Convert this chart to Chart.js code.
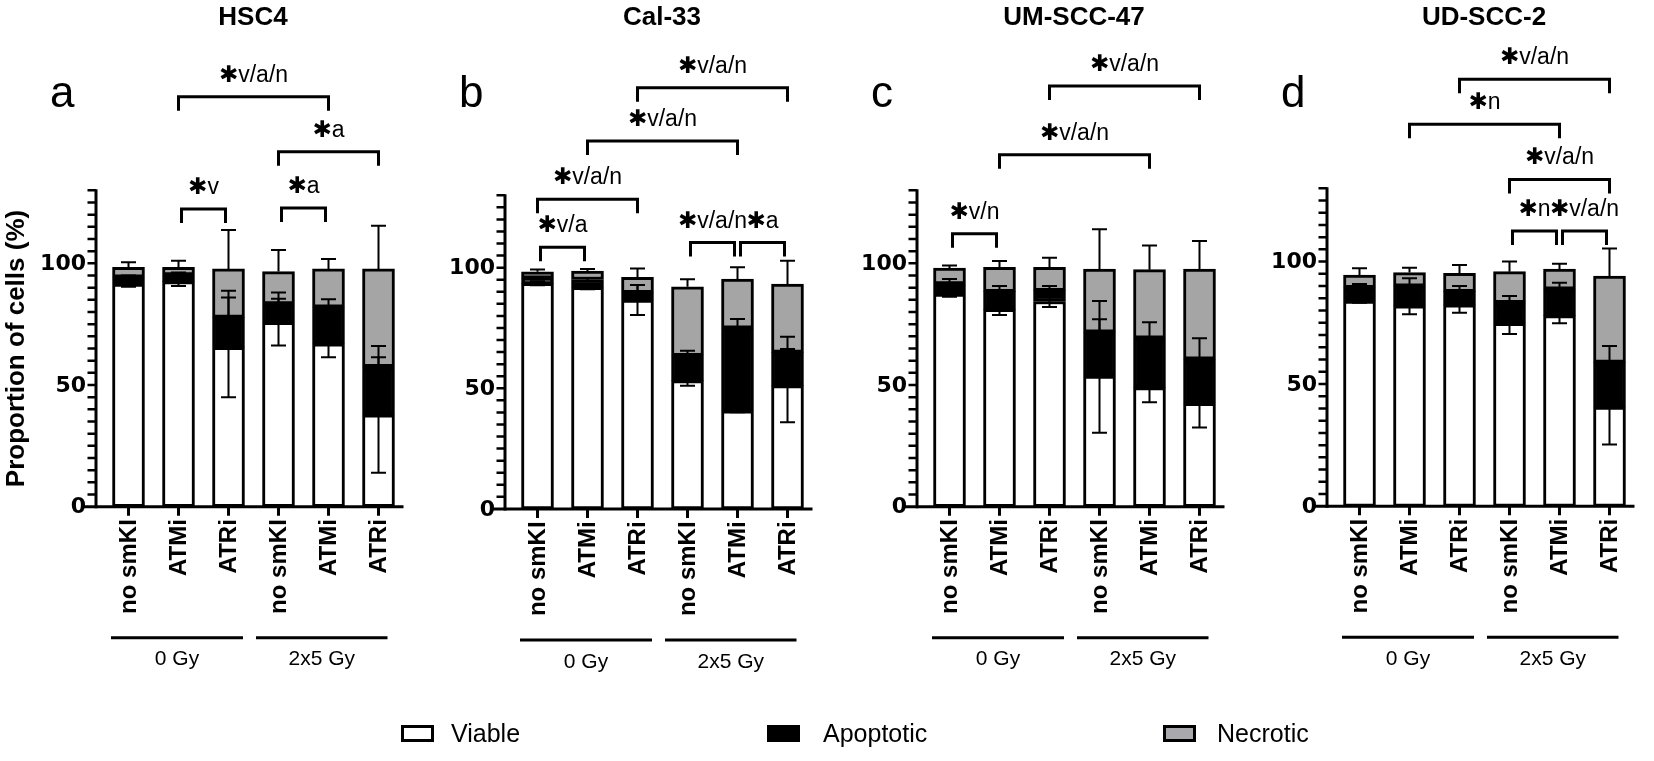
<!DOCTYPE html>
<html><head><meta charset="utf-8">
<script src="https://cdn.jsdelivr.net/npm/chart.js@4.4.1/dist/chart.umd.min.js"></script>
<style>
html,body{margin:0;padding:0;background:#fff;}
#wrap{position:relative;width:1654px;height:761px;overflow:hidden;background:#fff;}
.pc{position:absolute;top:0;width:405px;height:761px;}
.lgt{position:absolute;font:25px 'Liberation Sans',Arial,sans-serif;color:#000;line-height:25px;top:721px;}
.box{position:absolute;width:27px;height:11px;border:3px solid #000;top:725px;}
</style></head><body>
<div id="wrap">
  <div class="pc" style="left:0px"><canvas id="c0" width="405" height="761"></canvas></div>
  <div class="pc" style="left:409px"><canvas id="c1" width="405" height="761"></canvas></div>
  <div class="pc" style="left:821px"><canvas id="c2" width="405" height="761"></canvas></div>
  <div class="pc" style="left:1231px"><canvas id="c3" width="405" height="761"></canvas></div>
  <div class="box" style="left:401px;background:#fff"></div><div class="lgt" style="left:451px">Viable</div>
  <div class="box" style="left:767px;background:#000"></div><div class="lgt" style="left:823px">Apoptotic</div>
  <div class="box" style="left:1163px;background:#a9a9ad"></div><div class="lgt" style="left:1217px">Necrotic</div>
</div>
<script>
// ---------- data ----------
const categories = ['no smKI', 'ATMi', 'ATRi', 'no smKI', 'ATMi', 'ATRi'];
const groupLabels = ['0 Gy', '2x5 Gy'];
const panelTitles = ['HSC4', 'Cal-33', 'UM-SCC-47', 'UD-SCC-2'];
const panelLetters = ['a', 'b', 'c', 'd'];
const seriesNames = ['Viable', 'Apoptotic', 'Necrotic'];
const yTickLabels = [0, 50, 100];
const yMax = 130;

// HSC4
const hsc4Viable    = [91.5, 92.5, 65.5, 75.8, 66.9, 37.7];
const hsc4Apoptotic = [2.8, 2.7, 12.3, 7.5, 15.1, 19.8];
const hsc4Necrotic  = [4.1, 3.2, 19.9, 13.3, 15.7, 40.2];
const hsc4ViableSD    = [1.1, 1.8, 20.5, 9.6, 5.5, 23.7];
const hsc4ApoptoticSD = [0.7, 1.0, 10.9, 4.7, 3.2, 8.5];
const hsc4NecroticSD  = [2.0, 2.7, 16.0, 8.9, 4.1, 17.7];
const hsc4Sig = [[1, 4, 168.4, '✱v/a/n'], [3, 5, 145.8, '✱a'], [1, 2, 122.3, '✱v'], [3, 4, 122.7, '✱a']];

// Cal-33
const cal33Viable    = [93.5, 91.9, 86.6, 53.2, 40.7, 51.1];
const cal33Apoptotic = [2.1, 3.2, 3.0, 10.3, 34.2, 13.8];
const cal33Necrotic  = [2.7, 3.5, 6.4, 28.6, 20.4, 28.3];
const cal33ViableSD    = [0.8, 0.8, 6.2, 2.1, 0.6, 15.2];
const cal33ApoptoticSD = [0.5, 0.6, 3.2, 2.1, 3.8, 6.5];
const cal33NecroticSD  = [0.9, 0.9, 3.7, 3.1, 4.9, 9.7];
const cal33Sig = [[2, 5, 174.6, '✱v/a/n'], [1, 4, 152.5, '✱v/a/n'], [0, 2, 128.4, '✱v/a/n'],
                  [0, 1, 108.5, '✱v/a'], [3, 4, 110.4, '✱v/a/n'], [4, 5, 110.4, '✱a']];

// UM-SCC-47
const um47Viable    = [87.4, 81.1, 84.3, 53.7, 48.9, 42.5];
const um47Apoptotic = [4.1, 7.3, 4.5, 18.0, 20.3, 18.1];
const um47Necrotic  = [6.5, 9.9, 9.6, 25.9, 28.2, 37.0];
const um47ViableSD    = [1.1, 2.3, 2.3, 23.3, 6.0, 10.0];
const um47ApoptoticSD = [2.1, 2.3, 1.9, 12.8, 6.6, 8.6];
const um47NecroticSD  = [1.1, 2.7, 3.9, 16.4, 9.9, 11.6];
const um47Sig = [[2, 5, 172.9, '✱v/a/n'], [1, 4, 144.6, '✱v/a/n'], [0, 1, 112.1, '✱v/n']];

// UD-SCC-2
const ud2Viable    = [83.9, 81.9, 82.3, 74.8, 77.9, 40.5];
const ud2Apoptotic = [5.4, 8.1, 5.4, 8.4, 10.8, 18.3];
const ud2Necrotic  = [5.2, 5.5, 7.5, 12.7, 8.2, 35.3];
const ud2ViableSD    = [0.7, 3.4, 3.2, 4.4, 3.1, 15.2];
const ud2ApoptoticSD = [1.5, 3.2, 2.3, 2.7, 2.7, 6.7];
const ud2NecroticSD  = [2.8, 2.0, 3.4, 4.1, 2.2, 11.3];
const ud2Sig = [[2, 5, 174.5, '✱v/a/n'], [1, 4, 156.1, '✱n'], [3, 5, 133.6, '✱v/a/n'],
                [3, 4, 112.5, '✱n'], [4, 5, 112.5, '✱v/a/n']];

// ---------- layout / style ----------
const GRAY = '#a5a5a5';
const plotTop = [190.3, 195.3, 190.3, 188.2];
const plotBottom = [506.7, 508.9, 506.7, 506.3];
const FONT = "'Liberation Sans', Arial, sans-serif";

const errorBars = {
  id: 'errorBars',
  afterDatasetsDraw(chart, args, opts) {
    const ctx = chart.ctx, ys = chart.scales.y;
    ctx.save();
    ctx.strokeStyle = '#000';
    ctx.lineWidth = 2;
    chart.data.datasets.forEach((ds, di) => {
      const meta = chart.getDatasetMeta(di);
      meta.data.forEach((el, i) => {
        let cum = 0;
        for (let k = 0; k <= di; k++) cum += chart.data.datasets[k].data[i];
        const sd = ds.sd[i];
        const yHi = ys.getPixelForValue(cum + sd);
        const yLo = ys.getPixelForValue(ds.upOnly ? cum : cum - sd);
        const x = el.x;
        ctx.beginPath();
        ctx.moveTo(x, yLo); ctx.lineTo(x, yHi);
        ctx.moveTo(x - 7.5, yHi); ctx.lineTo(x + 7.5, yHi);
        if (!ds.upOnly) { ctx.moveTo(x - 7.5, yLo); ctx.lineTo(x + 7.5, yLo); }
        ctx.stroke();
      });
    });
    ctx.restore();
  }
};

const decor = {
  id: 'decor',
  afterDraw(chart, args, opts) {
    const ctx = chart.ctx, xs = chart.scales.x, ys = chart.scales.y;
    const ca = chart.chartArea;
    const axisX = ca.left - 7.5;
    const y0 = ys.getPixelForValue(0);
    ctx.save();
    ctx.strokeStyle = '#000'; ctx.fillStyle = '#000';
    ctx.lineCap = 'butt';
    // y axis
    ctx.lineWidth = 3;
    ctx.beginPath();
    ctx.moveTo(axisX, ys.getPixelForValue(yMax) - 1);
    ctx.lineTo(axisX, y0 + 1.5);
    ctx.stroke();
    ctx.lineWidth = 2.5;
    ctx.beginPath();
    for (let v = 5; v <= yMax; v += 5) {
      const py = ys.getPixelForValue(v);
      ctx.moveTo(axisX - 8.5, py); ctx.lineTo(axisX, py);
    }
    ctx.stroke();
    ctx.font = "bold 22px 'DejaVu Sans', sans-serif";
    ctx.textAlign = 'right'; ctx.textBaseline = 'middle';
    yTickLabels.forEach(v => ctx.fillText(String(v), axisX - 10, ys.getPixelForValue(v) + 1));
    // x axis
    ctx.lineWidth = 3;
    ctx.beginPath();
    ctx.moveTo(axisX - 14, y0); ctx.lineTo(ca.right, y0);
    ctx.stroke();
    ctx.beginPath();
    categories.forEach((c, i) => {
      const px = xs.getPixelForValue(i);
      ctx.moveTo(px, y0); ctx.lineTo(px, y0 + 9);
    });
    ctx.stroke();
    ctx.font = 'bold 24px ' + FONT;
    categories.forEach((c, i) => {
      const px = xs.getPixelForValue(i);
      ctx.save();
      ctx.translate(px + 1, y0 + 12.5);
      ctx.rotate(-Math.PI / 2);
      ctx.textAlign = 'right'; ctx.textBaseline = 'middle';
      ctx.fillText(c, 0, 0);
      ctx.restore();
    });
    // group lines
    const spans = [[-0.35, 2.29], [2.55, 5.18]];
    ctx.lineWidth = 3;
    ctx.font = '21px ' + FONT;
    ctx.textAlign = 'center'; ctx.textBaseline = 'middle';
    spans.forEach((s, g) => {
      const xa = xs.getPixelForValue(s[0]), xb = xs.getPixelForValue(s[1]);
      ctx.beginPath(); ctx.moveTo(xa, y0 + 131); ctx.lineTo(xb, y0 + 131); ctx.stroke();
      ctx.fillText(groupLabels[g], (xa + xb) / 2, y0 + 153);
    });
    // title and panel letter
    ctx.font = 'bold 26px ' + FONT;
    ctx.fillText(opts.title, axisX + 157, 18);
    ctx.font = '44px ' + FONT;
    ctx.textAlign = 'left'; ctx.textBaseline = 'alphabetic';
    ctx.fillText(opts.letter, axisX - 46, 107);
    // significance brackets
    ctx.lineWidth = 3; ctx.lineJoin = 'miter';
    ctx.font = "23px 'Liberation Sans', 'DejaVu Sans', sans-serif";
    ctx.textAlign = 'center';
    opts.sig.forEach(s => {
      const inset = (s[1] - s[0] === 1) ? 3 : 0;
      const xa = xs.getPixelForValue(s[0]) + inset, xb = xs.getPixelForValue(s[1]) - inset;
      const yl = ys.getPixelForValue(s[2]);
      ctx.beginPath();
      ctx.moveTo(xa, yl + 14); ctx.lineTo(xa, yl); ctx.lineTo(xb, yl); ctx.lineTo(xb, yl + 14);
      ctx.stroke();
      ctx.fillText(s[3], (xa + xb) / 2, yl - 15);
    });
    // y axis title (first panel only)
    if (opts.yTitle) {
      ctx.save();
      ctx.translate(17, 348.5);
      ctx.rotate(-Math.PI / 2);
      ctx.font = 'bold 26px ' + FONT;
      ctx.textAlign = 'center'; ctx.textBaseline = 'middle';
      ctx.fillText(opts.yTitle, 0, 0);
      ctx.restore();
    }
    ctx.restore();
  }
};

function makePanel(k, viable, apoptotic, necrotic, vSD, aSD, nSD, sig) {
  const common = { borderColor: '#000', borderWidth: 3, borderSkipped: false, barThickness: 32 };
  new Chart(document.getElementById('c' + k), {
    type: 'bar',
    data: {
      labels: categories,
      datasets: [
        Object.assign({ label: seriesNames[0], data: viable, backgroundColor: '#fff', sd: vSD }, common),
        Object.assign({ label: seriesNames[1], data: apoptotic, backgroundColor: '#000', sd: aSD }, common),
        Object.assign({ label: seriesNames[2], data: necrotic, backgroundColor: GRAY, sd: nSD, upOnly: true }, common)
      ]
    },
    options: {
      responsive: false,
      animation: false,
      devicePixelRatio: 1,
      layout: { padding: { left: 103.5, right: 1.5, top: plotTop[k], bottom: 761 - plotBottom[k] } },
      plugins: {
        legend: { display: false },
        tooltip: { enabled: false },
        decor: { title: panelTitles[k], letter: panelLetters[k], sig: sig,
                 yTitle: k === 0 ? 'Proportion of cells (%)' : null }
      },
      scales: {
        x: { display: false, stacked: true, offset: true },
        y: { display: false, stacked: true, min: 0, max: yMax }
      }
    },
    plugins: [errorBars, decor]
  });
}

makePanel(0, hsc4Viable, hsc4Apoptotic, hsc4Necrotic, hsc4ViableSD, hsc4ApoptoticSD, hsc4NecroticSD, hsc4Sig);
makePanel(1, cal33Viable, cal33Apoptotic, cal33Necrotic, cal33ViableSD, cal33ApoptoticSD, cal33NecroticSD, cal33Sig);
makePanel(2, um47Viable, um47Apoptotic, um47Necrotic, um47ViableSD, um47ApoptoticSD, um47NecroticSD, um47Sig);
makePanel(3, ud2Viable, ud2Apoptotic, ud2Necrotic, ud2ViableSD, ud2ApoptoticSD, ud2NecroticSD, ud2Sig);
</script>
</body></html>
